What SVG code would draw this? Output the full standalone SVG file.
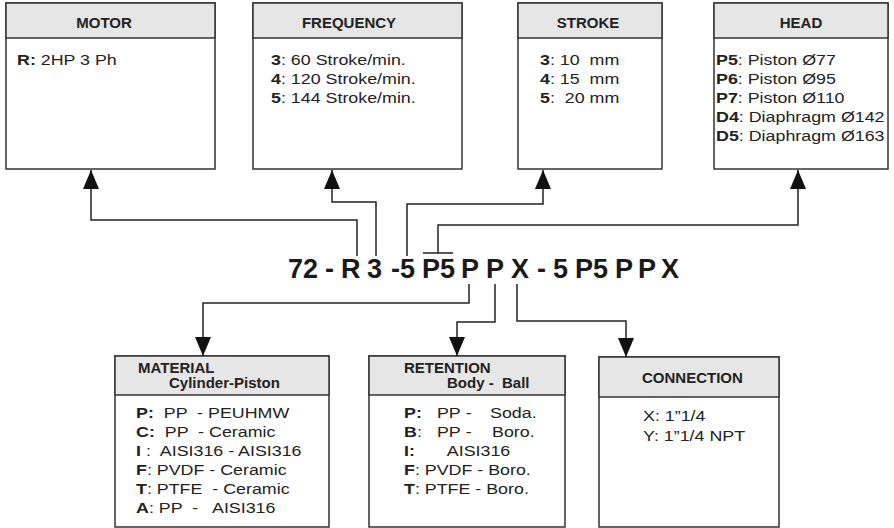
<svg xmlns="http://www.w3.org/2000/svg" width="894" height="528" viewBox="0 0 894 528">
<defs>
<style>
.box{fill:#fff;stroke:#333;stroke-width:1.5}
.hdr{fill:#e6e6e6;stroke:#333;stroke-width:1.5}
.title{font-family:"Liberation Sans",Arial,sans-serif;font-weight:bold;font-size:15px;fill:#222;white-space:pre}
.body{font-family:"Liberation Sans",Arial,sans-serif;font-size:15px;fill:#222;white-space:pre}
.b{font-weight:bold}
.code{font-family:"Liberation Sans",Arial,sans-serif;font-weight:bold;font-size:27px;fill:#1a1a1a}
.wire{fill:none;stroke:#222;stroke-width:1.5}
</style>
<marker id="arr" markerUnits="userSpaceOnUse" markerWidth="20" markerHeight="16" refX="19" refY="8" orient="auto">
<path d="M0,0 L19,8 L0,16 Z" fill="#111"/>
</marker>
</defs>

<g id="motor">
<rect class="box" x="6" y="3" width="209" height="166"/>
<rect class="hdr" x="6" y="3" width="209" height="35"/>
<text class="title" x="104" y="28" text-anchor="middle">MOTOR</text>
<g transform="translate(17 0) scale(1.19 1)">
<text class="body" x="0" y="65"><tspan class="b">R:</tspan> 2HP 3 Ph</text>
</g>
</g>

<g id="frequency">
<rect class="box" x="253" y="3" width="209" height="166"/>
<rect class="hdr" x="253" y="3" width="209" height="35"/>
<text class="title" x="349" y="28" text-anchor="middle">FREQUENCY</text>
<g transform="translate(271 0) scale(1.19 1)">
<text class="body" x="0" y="65"><tspan class="b">3</tspan>: 60 Stroke/min.</text>
<text class="body" x="0" y="84"><tspan class="b">4</tspan>: 120 Stroke/min.</text>
<text class="body" x="0" y="103"><tspan class="b">5</tspan>: 144 Stroke/min.</text>
</g>
</g>

<g id="stroke">
<rect class="box" x="518" y="3" width="144" height="166"/>
<rect class="hdr" x="518" y="3" width="144" height="35"/>
<text class="title" x="588" y="28" text-anchor="middle">STROKE</text>
<g transform="translate(540 0) scale(1.19 1)">
<text class="body" x="0" y="65"><tspan class="b">3</tspan>: 10  mm</text>
<text class="body" x="0" y="84"><tspan class="b">4</tspan>: 15  mm</text>
<text class="body" x="0" y="103"><tspan class="b">5</tspan>:  20 mm</text>
</g>
</g>

<g id="head">
<rect class="box" x="714" y="3" width="174" height="166"/>
<rect class="hdr" x="714" y="3" width="174" height="35"/>
<text class="title" x="801" y="28" text-anchor="middle">HEAD</text>
<g transform="translate(716 0) scale(1.19 1)">
<text class="body" x="0" y="65"><tspan class="b">P5</tspan>: Piston Ø77</text>
<text class="body" x="0" y="84"><tspan class="b">P6</tspan>: Piston Ø95</text>
<text class="body" x="0" y="103"><tspan class="b">P7</tspan>: Piston Ø110</text>
<text class="body" x="0" y="122"><tspan class="b">D4</tspan>: Diaphragm Ø142</text>
<text class="body" x="0" y="141"><tspan class="b">D5</tspan>: Diaphragm Ø163</text>
</g>
</g>

<g id="code">
<text class="code" y="278"><tspan x="288">72</tspan><tspan x="325">-</tspan><tspan x="341">R</tspan><tspan x="367">3</tspan><tspan x="391">-5</tspan><tspan x="422">P5</tspan><tspan x="461">P</tspan><tspan x="486">P</tspan><tspan x="511">X</tspan><tspan x="537">-</tspan><tspan x="553">5</tspan><tspan x="575">P5</tspan><tspan x="615">P</tspan><tspan x="638">P</tspan><tspan x="661">X</tspan></text>
</g>

<g id="material">
<rect class="box" x="115" y="356" width="214" height="171"/>
<rect class="hdr" x="115" y="356" width="214" height="39"/>
<text class="title" x="138" y="373">MATERIAL</text>
<text class="title" x="169" y="388">Cylinder-Piston</text>
<g transform="translate(136 0) scale(1.19 1)">
<text class="body" x="0" y="418"><tspan class="b">P:</tspan>  PP  - PEUHMW</text>
<text class="body" x="0" y="437"><tspan class="b">C:</tspan>  PP  - Ceramic</text>
<text class="body" x="0" y="456"><tspan class="b">I</tspan> :  AISI316 - AISI316</text>
<text class="body" x="0" y="475"><tspan class="b">F</tspan>: PVDF - Ceramic</text>
<text class="body" x="0" y="494"><tspan class="b">T</tspan>: PTFE  - Ceramic</text>
<text class="body" x="0" y="513"><tspan class="b">A</tspan>: PP  -   AISI316</text>
</g>
</g>

<g id="retention">
<rect class="box" x="369" y="356" width="196" height="171"/>
<rect class="hdr" x="369" y="356" width="196" height="39"/>
<text class="title" x="404" y="373">RETENTION</text>
<text class="title" x="447" y="388">Body -  Ball</text>
<g transform="translate(404 0) scale(1.19 1)">
<text class="body" y="418"><tspan class="b" x="0">P:</tspan><tspan x="27.7">PP</tspan><tspan x="52">-</tspan><tspan x="72.3">Soda.</tspan></text>
<text class="body" y="437"><tspan class="b" x="0">B</tspan>:<tspan x="27.7">PP</tspan><tspan x="52">-</tspan><tspan x="74">Boro.</tspan></text>
<text class="body" y="456"><tspan class="b" x="0">I:</tspan><tspan x="36">AISI316</tspan></text>
<text class="body" x="0" y="475"><tspan class="b">F</tspan>: PVDF - Boro.</text>
<text class="body" x="0" y="494"><tspan class="b">T</tspan>: PTFE - Boro.</text>
</g>
</g>

<g id="connection">
<rect class="box" x="599" y="357" width="180" height="170"/>
<rect class="hdr" x="599" y="357" width="180" height="40"/>
<text class="title" x="642" y="383">CONNECTION</text>
<g transform="translate(643 0) scale(1.19 1)">
<text class="body" x="0" y="421">X: 1”1/4</text>
<text class="body" x="0" y="441">Y: 1”1/4 NPT</text>
</g>
</g>

<g id="connectors">
<path class="wire" d="M357,256 V220 H91 V170" marker-end="url(#arr)"/>
<path class="wire" d="M376,256 V202 H332 V170" marker-end="url(#arr)"/>
<path class="wire" d="M407,256 V204 H543 V170" marker-end="url(#arr)"/>
<path class="wire" d="M423,253 H453 M438,253 V225 H798 V170" marker-end="url(#arr)"/>
<path class="wire" d="M469,284 V303 H203 V356" marker-end="url(#arr)"/>
<path class="wire" d="M495,284 V322 H457 V356" marker-end="url(#arr)"/>
<path class="wire" d="M517,284 V321 H626 V357" marker-end="url(#arr)"/>
</g>
</svg>
